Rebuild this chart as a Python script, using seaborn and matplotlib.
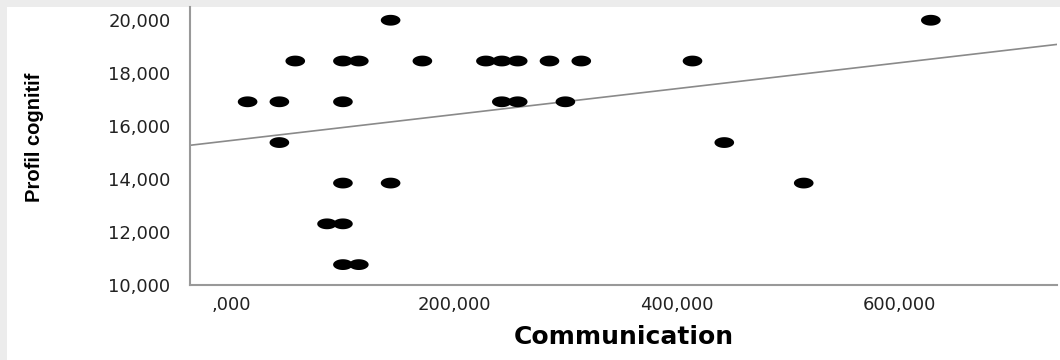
import numpy as np
import pandas as pd
import matplotlib
matplotlib.use("Agg")
import matplotlib.pyplot as plt
from matplotlib.path import Path
from matplotlib.patches import Rectangle
from matplotlib.ticker import FuncFormatter, FixedLocator
import seaborn as sns

# Scores per respondent
communication = [142.86, 628.57,
                 57.14, 100.00, 114.29, 171.43, 228.57, 242.86, 257.14, 285.71, 314.29, 414.29,
                 14.29, 42.86, 100.00, 242.86, 257.14, 300.00,
                 42.86, 442.86,
                 100.00, 142.86, 514.29,
                 85.71, 100.00,
                 100.00, 114.29]
profil_cognitif = [20.00, 20.00,
                   18.46, 18.46, 18.46, 18.46, 18.46, 18.46, 18.46, 18.46, 18.46, 18.46,
                   16.92, 16.92, 16.92, 16.92, 16.92, 16.92,
                   15.38, 15.38,
                   13.85, 13.85, 13.85,
                   12.31, 12.31,
                   10.77, 10.77]
x_ticks = [0, 200, 400, 600]
y_ticks = [10, 12, 14, 16, 18, 20]

df = pd.DataFrame({"Communication": communication, "Profil cognitif": profil_cognitif})

sns.set_theme(style="white")
plt.rcParams["font.family"] = ["Liberation Sans", "DejaVu Sans"]

fig = plt.figure(figsize=(10.6, 3.6), dpi=100)
fig.patch.set_facecolor("#ececec")
panel = Rectangle((7 / 1060, 0), 1 - 7 / 1060, 1 - 7 / 360,
                  transform=fig.transFigure, facecolor="white",
                  edgecolor="none", zorder=-5)
fig.add_artist(panel)

ax = fig.add_axes([190 / 1060, 75 / 360, 867 / 1060, 278 / 360])
ax.set_zorder(2)
ax.set_facecolor("white")
ax.set_xlim(-37.5, 742)
ax.set_ylim(10, 20.5)

# wide oval marker
t = np.linspace(0, 2 * np.pi, 60)
oval = Path(np.column_stack([np.cos(t), 0.55 * np.sin(t)]), closed=True)

sns.regplot(data=df, x="Communication", y="Profil cognitif", ax=ax,
            scatter=False, ci=None, truncate=False,
            line_kws={"color": "#8a8a8a", "linewidth": 1.2})
sns.scatterplot(data=df, x="Communication", y="Profil cognitif", ax=ax,
                marker=oval, s=200, color="black", edgecolor="none", zorder=3)


def fr_fmt(v, pos):
    s = f"{v:.3f}".replace(".", ",")
    return s[1:] if s.startswith("0,") else s


ax.xaxis.set_major_locator(FixedLocator(x_ticks))
ax.yaxis.set_major_locator(FixedLocator(y_ticks))
ax.xaxis.set_major_formatter(FuncFormatter(fr_fmt))
ax.yaxis.set_major_formatter(FuncFormatter(fr_fmt))
ax.tick_params(axis="both", length=0, labelsize=13, colors="#222222",
               labelfontfamily="DejaVu Sans")
ax.tick_params(axis="y", pad=14)
ax.tick_params(axis="x", pad=8)

for side in ("top", "right"):
    ax.spines[side].set_visible(False)
for side in ("left", "bottom"):
    ax.spines[side].set_color("#999999")
    ax.spines[side].set_linewidth(1.5)

ax.set_xlabel("Communication", fontsize=18, fontweight="bold",
              family="DejaVu Sans", labelpad=8, color="black")
ax.set_ylabel("Profil cognitif", fontsize=14.5, fontweight="bold",
              family="Liberation Sans", color="black")
ax.yaxis.set_label_coords(-0.168, 0.53)

fig.savefig("out.png", dpi=100, facecolor=fig.get_facecolor())
